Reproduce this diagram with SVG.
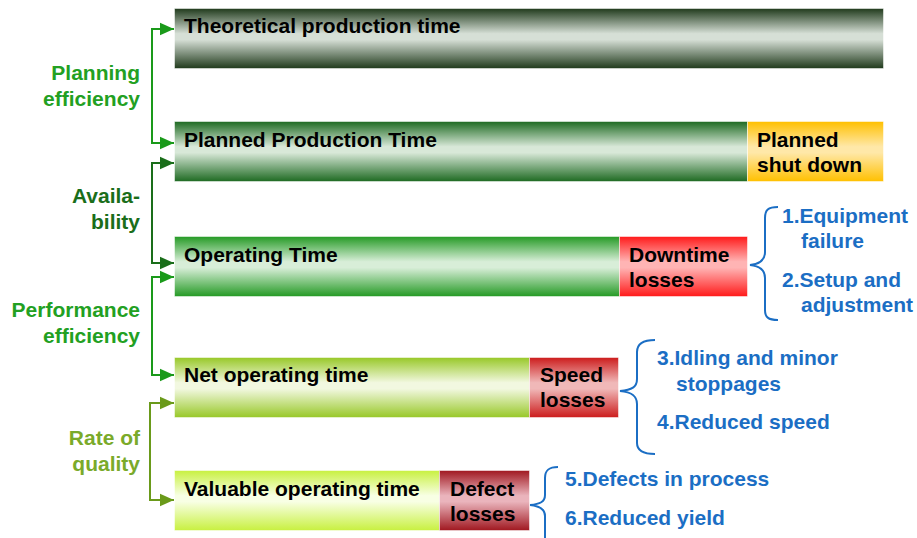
<svg xmlns="http://www.w3.org/2000/svg" width="917" height="538" viewBox="0 0 917 538">
<defs>
<linearGradient id="g1" x1="0" y1="0" x2="0" y2="1">
<stop offset="0" stop-color="#203a1c"/><stop offset="0.42" stop-color="#d6dfd6"/><stop offset="0.52" stop-color="#d6dfd6"/><stop offset="1" stop-color="#203a1c"/>
</linearGradient>
<linearGradient id="g2" x1="0" y1="0" x2="0" y2="1">
<stop offset="0" stop-color="#1e6a22"/><stop offset="0.42" stop-color="#d8e8d8"/><stop offset="0.52" stop-color="#d8e8d8"/><stop offset="1" stop-color="#1e6a22"/>
</linearGradient>
<linearGradient id="g3" x1="0" y1="0" x2="0" y2="1">
<stop offset="0" stop-color="#259a25"/><stop offset="0.42" stop-color="#d8eed8"/><stop offset="0.52" stop-color="#d8eed8"/><stop offset="1" stop-color="#259a25"/>
</linearGradient>
<linearGradient id="g4" x1="0" y1="0" x2="0" y2="1">
<stop offset="0" stop-color="#98c828"/><stop offset="0.42" stop-color="#f2f8e0"/><stop offset="0.52" stop-color="#f2f8e0"/><stop offset="1" stop-color="#98c828"/>
</linearGradient>
<linearGradient id="g5" x1="0" y1="0" x2="0" y2="1">
<stop offset="0" stop-color="#c8f040"/><stop offset="0.42" stop-color="#f8ffe4"/><stop offset="0.52" stop-color="#f8ffe4"/><stop offset="1" stop-color="#c8f040"/>
</linearGradient>
<linearGradient id="gy" x1="0" y1="0" x2="0" y2="1">
<stop offset="0" stop-color="#ffc000"/><stop offset="0.42" stop-color="#ffe8a8"/><stop offset="0.52" stop-color="#ffe8a8"/><stop offset="1" stop-color="#ffc000"/>
</linearGradient>
<linearGradient id="gr" x1="0" y1="0" x2="0" y2="1">
<stop offset="0" stop-color="#ff1a1a"/><stop offset="0.42" stop-color="#ffb4b4"/><stop offset="0.52" stop-color="#ffb4b4"/><stop offset="1" stop-color="#ff1a1a"/>
</linearGradient>
<linearGradient id="gs" x1="0" y1="0" x2="0" y2="1">
<stop offset="0" stop-color="#cc1c1c"/><stop offset="0.42" stop-color="#f0b8b8"/><stop offset="0.52" stop-color="#f0b8b8"/><stop offset="1" stop-color="#cc1c1c"/>
</linearGradient>
<linearGradient id="gd" x1="0" y1="0" x2="0" y2="1">
<stop offset="0" stop-color="#a01820"/><stop offset="0.42" stop-color="#eab4bc"/><stop offset="0.52" stop-color="#eab4bc"/><stop offset="1" stop-color="#a01820"/>
</linearGradient>
<marker id="a1" viewBox="0 0 10 10" refX="10" refY="5" markerWidth="14" markerHeight="14" markerUnits="userSpaceOnUse" orient="auto-start-reverse"><path d="M0,0.5L10,5L0,9.5z" fill="#1a9a1a"/></marker>
<marker id="a2" viewBox="0 0 10 10" refX="10" refY="5" markerWidth="14" markerHeight="14" markerUnits="userSpaceOnUse" orient="auto-start-reverse"><path d="M0,0.5L10,5L0,9.5z" fill="#1a6e1a"/></marker>
<marker id="a3" viewBox="0 0 10 10" refX="10" refY="5" markerWidth="14" markerHeight="14" markerUnits="userSpaceOnUse" orient="auto-start-reverse"><path d="M0,0.5L10,5L0,9.5z" fill="#6a9a1a"/></marker>
</defs>
<style>
text{font-family:"Liberation Sans",Arial,sans-serif;font-weight:bold;font-size:21px}
.bt{fill:#000}
.lbl{text-anchor:end}
.bl{fill:#1b6ec4}
.brace{fill:none;stroke:#1b6ec4;stroke-width:2}
.bar{stroke:#ffffff;stroke-opacity:0.5;stroke-width:1}
</style>
<g id="connectors">
<path d="M174,29H152V143H174" fill="none" stroke="#1a9a1a" stroke-width="2" marker-start="url(#a1)" marker-end="url(#a1)"/>
<path d="M174,163H152V263H174" fill="none" stroke="#1a6e1a" stroke-width="2" marker-start="url(#a2)" marker-end="url(#a2)"/>
<path d="M174,277H152V375H174" fill="none" stroke="#1a9a1a" stroke-width="2" marker-start="url(#a1)" marker-end="url(#a1)"/>
<path d="M174,403H150V500H174" fill="none" stroke="#6a9a1a" stroke-width="2" marker-start="url(#a3)" marker-end="url(#a3)"/>
<path class="brace" d="M778,207C768,207 765,210 765,218V252C765,260 760,264 750,265C760,266 765,270 765,278V310C765,317 768,320 778,320"/>
<path class="brace" d="M655,340C644,340 637,343 637,352V379C637,387 632,390 620,391C632,392 637,396 637,404V443C637,451 644,454 655,454"/>
<path class="brace" d="M558,467C549,467 545,470 545,478V495C545,502 540,504 530,505C540,506 545,509 545,516V538"/>
</g>
<g id="lbl-planning"><text class="lbl" x="140" y="80" fill="#22a022">Planning</text><text class="lbl" x="140" y="106" fill="#22a022">efficiency</text></g>
<g id="lbl-availability"><text class="lbl" x="140" y="203" fill="#1a6e1a">Availa-</text><text class="lbl" x="140" y="229" fill="#1a6e1a">bility</text></g>
<g id="lbl-performance"><text class="lbl" x="140" y="317" fill="#22a022">Performance</text><text class="lbl" x="140" y="343" fill="#22a022">efficiency</text></g>
<g id="lbl-quality"><text class="lbl" x="140" y="445" fill="#7aaa2a">Rate of</text><text class="lbl" x="140" y="471" fill="#7aaa2a">quality</text></g>
<g id="bar-theoretical"><rect class="bar" x="174.5" y="8.5" width="709" height="60" fill="url(#g1)"/><text class="bt" x="184" y="33">Theoretical production time</text></g>
<g id="bar-planned"><rect class="bar" x="174.5" y="121.5" width="573" height="60" fill="url(#g2)"/><text class="bt" x="184" y="147">Planned Production Time</text></g>
<g id="loss-shutdown"><rect class="bar" x="747.5" y="121.5" width="136" height="60" fill="url(#gy)"/><text class="bt" x="757" y="147">Planned</text><text class="bt" x="757" y="172">shut down</text></g>
<g id="bar-operating"><rect class="bar" x="174.5" y="236.5" width="445" height="60" fill="url(#g3)"/><text class="bt" x="184" y="262">Operating Time</text></g>
<g id="loss-downtime"><rect class="bar" x="619.5" y="236.5" width="128" height="60" fill="url(#gr)"/><text class="bt" x="629" y="262">Downtime</text><text class="bt" x="629" y="287">losses</text></g>
<g id="bar-net"><rect class="bar" x="174.5" y="357.5" width="355" height="60" fill="url(#g4)"/><text class="bt" x="184" y="382">Net operating time</text></g>
<g id="loss-speed"><rect class="bar" x="529.5" y="357.5" width="89" height="60" fill="url(#gs)"/><text class="bt" x="540" y="382">Speed</text><text class="bt" x="540" y="407">losses</text></g>
<g id="bar-valuable"><rect class="bar" x="174.5" y="470.5" width="265" height="60" fill="url(#g5)"/><text class="bt" x="184" y="496">Valuable operating time</text></g>
<g id="loss-defect"><rect class="bar" x="439.5" y="470.5" width="90" height="60" fill="url(#gd)"/><text class="bt" x="450" y="496">Defect</text><text class="bt" x="450" y="521">losses</text></g>
<g id="causes-downtime"><text class="bl" x="782" y="223">1.Equipment</text><text class="bl" x="801" y="248">failure</text><text class="bl" x="782" y="287">2.Setup and</text><text class="bl" x="801" y="312">adjustment</text></g>
<g id="causes-speed"><text class="bl" x="657" y="365">3.Idling and minor</text><text class="bl" x="676" y="391">stoppages</text><text class="bl" x="657" y="429">4.Reduced speed</text></g>
<g id="causes-defect"><text class="bl" x="565" y="486">5.Defects in process</text><text class="bl" x="565" y="525">6.Reduced yield</text></g>
</svg>
